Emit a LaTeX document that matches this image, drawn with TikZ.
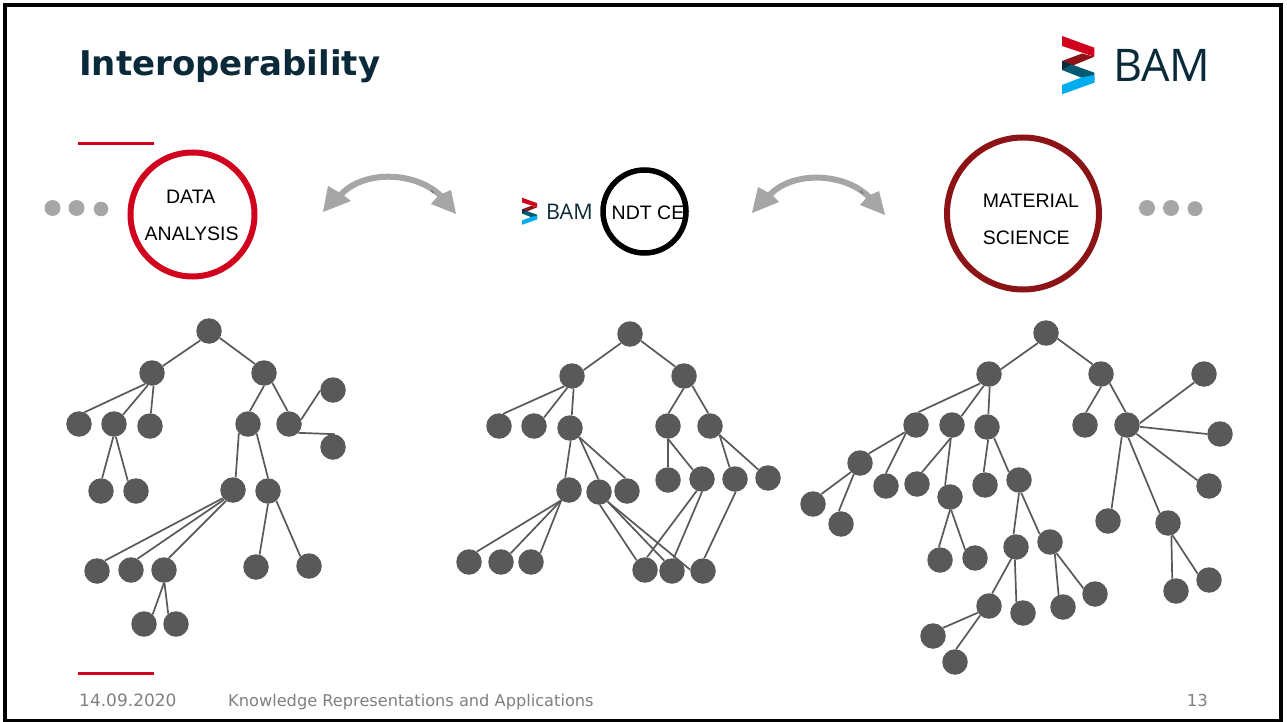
\documentclass[tikz,border=0pt]{standalone}
\usepackage{fontspec}
\setmainfont{Liberation Sans}
\newfontfamily\dejavu{DejaVu Sans}
\newfontfamily\logofont{Open Sans}
\definecolor{bamred}{HTML}{D0021E}
\definecolor{bamdark}{HTML}{8C1316}
\definecolor{bamteal}{HTML}{005B72}
\definecolor{bamblue}{HTML}{00AEEF}
\definecolor{bamnavy}{HTML}{0A2A3A}
\definecolor{nodegray}{HTML}{595959}
\definecolor{dotgray}{HTML}{A6A6A6}
\definecolor{seamgray}{HTML}{6E6E6E}
\definecolor{footgray}{HTML}{808080}
\tikzset{
  tn/.style={circle,fill=nodegray,draw=none,inner sep=0pt,minimum size=25.5pt},
  edge/.style={draw=nodegray,line width=1.7pt},
  dotn/.style={circle,fill=dotgray,draw=none,inner sep=0pt,minimum size=#1},
  topic/.style={circle,draw=#1,line width=6pt,fill=white,inner sep=0pt},
  lbl/.style={inner sep=0pt,text=black,font=\fontsize{19.5}{20}\selectfont},
  foot/.style={inner sep=0pt,text=footgray},
  rule/.style={draw=bamred,line width=3pt},
  shaft/.style={draw=dotgray,line width=6pt},
  head/.style={fill=dotgray,draw=none},
  seam/.style={draw=seamgray,line width=1.2pt},
  bamlogo/.pic={
    \fill[bamred] (0,0)--(32.3,11.7)--(32.3,20.7)--(0,10)--cycle;
    \fill[bamdark] (32.3,20.7)--(0,34)--(0,25)--(20,17.5)--cycle;
    \fill[bamteal] (0,25)--(32.3,36.7)--(32.3,46.7)--(0,34)--cycle;
    \fill[bamnavy] (0,25)--(9,28.3)--(0,34)--cycle;
    \fill[bamblue] (32.3,39)--(32.3,46.7)--(0,58.3)--(0,49)--(20,41.3)--cycle;
  }
}
\begin{document}
\begin{tikzpicture}[x=1pt,y=-1pt]
\useasboundingbox (0,0) rectangle (1287,722);
\fill[white] (0,0) rectangle (1287,722);
\draw[black,line width=3.5pt] (5,5) rectangle (1281,720.5);

% header
\node[anchor=base west,inner sep=0pt,text=bamnavy,font=\dejavu\bfseries\fontsize{34}{34}\selectfont] (title) at (79,75.5) {Interoperability};
\pic at (1062,36) {bamlogo};
\node[anchor=base west,inner sep=0pt,text=bamnavy,font=\logofont\fontsize{45}{45}\selectfont] (bamA) at (1113,82) {BAM};
\draw[rule] (78,144) -- (154,144);
\draw[rule] (78,673.5) -- (154,673.5);

% topic circles
\node[topic=bamred,minimum size=124pt] (data) at (192.5,214.5) {};
\node[lbl] (dataA) at (190.7,197) {DATA};
\node[lbl] (dataB) at (191.7,234) {ANALYSIS};
\node[topic=black,line width=5.5pt,minimum size=83pt] (ndt) at (644.5,211.5) {};
\node[lbl] (ndtA) at (648,213) {NDT CE};
\node[topic=bamdark,minimum size=152pt] (mat) at (1023,213.5) {};
\node[lbl,anchor=west] (matA) at (982.7,201) {MATERIAL};
\node[lbl,anchor=west] (matB) at (982.7,237.7) {SCIENCE};
\pic[scale=0.465] at (522,197.7) {bamlogo};
\node[anchor=base west,inner sep=0pt,text=bamnavy,font=\logofont\fontsize{21.5}{21.5}\selectfont] (bamB) at (546,219.3) {BAM};

% ellipsis dots
\node[dotn=16pt] (dl1) at (52.5,208) {};
\node[dotn=16pt] (dl2) at (76.5,208) {};
\node[dotn=14.6pt] (dl3) at (101,209) {};
\node[dotn=16pt] (dr1) at (1147,208) {};
\node[dotn=16pt] (dr2) at (1171,208) {};
\node[dotn=15pt] (dr3) at (1195,208.7) {};

% exchange arrows
\draw[shaft] (339,197) .. controls (360,170) and (415,170) .. (441.7,196.7);
\fill[head] (323,212) -- (328,186) -- (342,194) -- (351,201) -- cycle;
\fill[head] (456,214) -- (451,190) -- (439,195) -- (431,204) -- cycle;
\draw[seam] (431.2,190.4) -- (433.4,193);
\draw[shaft] (768,197) .. controls (789,171) and (844,171) .. (870,198);
\fill[head] (752,213) -- (758,187) -- (771,194) -- (779,202) -- cycle;
\fill[head] (885,215) -- (879,191) -- (868,196) -- (860,205) -- cycle;
\draw[seam] (860.6,190.6) -- (862.8,193.4);

% tree 1
\foreach \n/\x/\y in {aR/209/331,aa/152/373,ab/264/373,ac1/79/424,ac2/114/424,ac3/150/426,ad1/248/424,ad2/289/424,
  ae1/333/390,ae2/333/447,af1/101/491,af2/136/491,ag1/233/490,ag2/268/491,ah1/97/571,ah2/131/570,ah3/164/570,
  ah4/256/567,ah5/309/566,ai1/144/624,ai2/176/624}
  \node[tn] (\n) at (\x,\y) {};
\foreach \a/\p/\b/\q in {aR/227/aa/33,aR/327/ab/135,aa/238/ac1/65,aa/251/ac2/46,aa/277/ac3/86,ab/270/ad1/82,ab/310/ad2/96,
  ad2/20/ae1/183,ad2/317/ae2/82,ac2/267/af1/85,ac2/278/af2/129,ad1/225/ag1/78,ad1/312/ag2/90,
  ag1/219/ah1/53,ag1/227/ah2/60,ag1/237/ah3/68,ag2/270/ah4/74,ag2/310/ah5/132,ah3/270/ai1/48,ah3/272/ai2/127}
  \draw[edge] (\a.\p) -- (\b.\q);

% tree 2
\foreach \n/\x/\y in {bR/630/334,ba/572/376,bb/684/376,bc1/499/426,bc2/534/426,bc3/570/428,bd1/668/426,bd2/710/426,
  be1/569/490,be2/599/492,be3/627/491,bf1/668/480,bf2/702/479,bf3/735/479,bf4/768/478,
  bg1/469/562,bg2/501/562,bg3/531/562,bh1/645/570,bh2/672/571,bh3/703/571}
  \node[tn] (\n) at (\x,\y) {};
\foreach \a/\p/\b/\q in {bR/225/ba/27,bR/328/bb/133,ba/233/bc1/71,ba/248/bc2/40,ba/277/bc3/82,bb/267/bd1/87,bb/310/bd2/98,
  bc3/273/be1/107,bc3/315/be2/93,bc3/315/be3/98,bd1/270/bf1/90,bd1/270/bf2/135,bd2/317/bf3/115,bd2/317/bf4/139,
  be1/233/bg1/53,be1/233/bg2/42,be1/233/bg3/44,be2/274/bh1/131,be2/312/bh2/127,be2/312/bh3/174,
  bf2/246/bh1/81,bf2/270/bh2/82,bf3/273/bh3/84}
  \draw[edge] (\a.\p) -- (\b.\q);

% tree 3
\foreach \n/\x/\y in {cR/1046/333,ca/989/374,cb/1101/374,cc1/916/425,cc2/952/425,cc3/987/427,cd1/860/463,cd2/886/486,
  cd3/917/484,cd4/950/497,cd5/985/485,cd6/1019/480,ce1/813/504,ce2/841/524,ce3/940/560,ce4/975/558,
  cf1/1016/547,cf2/1050/542,cg1/989/606,cg2/1023/613,cg3/1063/607,cg4/1095/594,ch1/933/636,ch2/955/662,
  cp1/1085/425,cp2/1127/425,cq1/1204/374,cq2/1220/434,cq3/1209/486,cq4/1108/521,cq5/1168/523,cr1/1176/591,cr2/1209/580}
  \node[tn] (\n) at (\x,\y) {};
\foreach \a/\p/\b/\q in {cR/231/ca/22,cR/334/cb/131,ca/227/cc1/80,ca/246/cc2/43,ca/273/cc3/84,cc1/213/cd1/47,cc1/219/cd2/90,
  cc2/265/cd3/67,cc2/265/cd4/112,cc3/275/cd5/96,cc3/303/cd6/142,cd1/225/ce1/50,cd1/241/ce2/100,
  cd4/270/ce3/95,cd4/275/ce4/140,cd6/270/cf1/101,cd6/280/cf2/143,cf1/248/cg1/76,cf1/265/cg2/121,
  cf2/292/cg3/110,cf2/300/cg4/154,cg1/211/ch1/39,cg1/227/ch2/85,cb/270/cp1/85,cb/313/cp2/96,
  cp2/8/cq1/221,cp2/352/cq2/180,cp2/317/cq3/154,cp2/246/cq4/74,cp2/276/cq5/130,cq5/285/cr1/107,cq5/290/cr2/151}
  \draw[edge] (\a.\p) -- (\b.\q);

% footer
\node[foot,anchor=base west,font=\dejavu\fontsize{17}{17}\selectfont] (date) at (79,706) {14.09.2020};
\node[foot,anchor=base west,font=\dejavu\fontsize{16.2}{17}\selectfont] (ftitle) at (228,706) {Knowledge Representations and Applications};
\node[foot,anchor=base east,font=\dejavu\fontsize{16.5}{17}\selectfont] (page) at (1208,706) {13};
\end{tikzpicture}
\end{document}
